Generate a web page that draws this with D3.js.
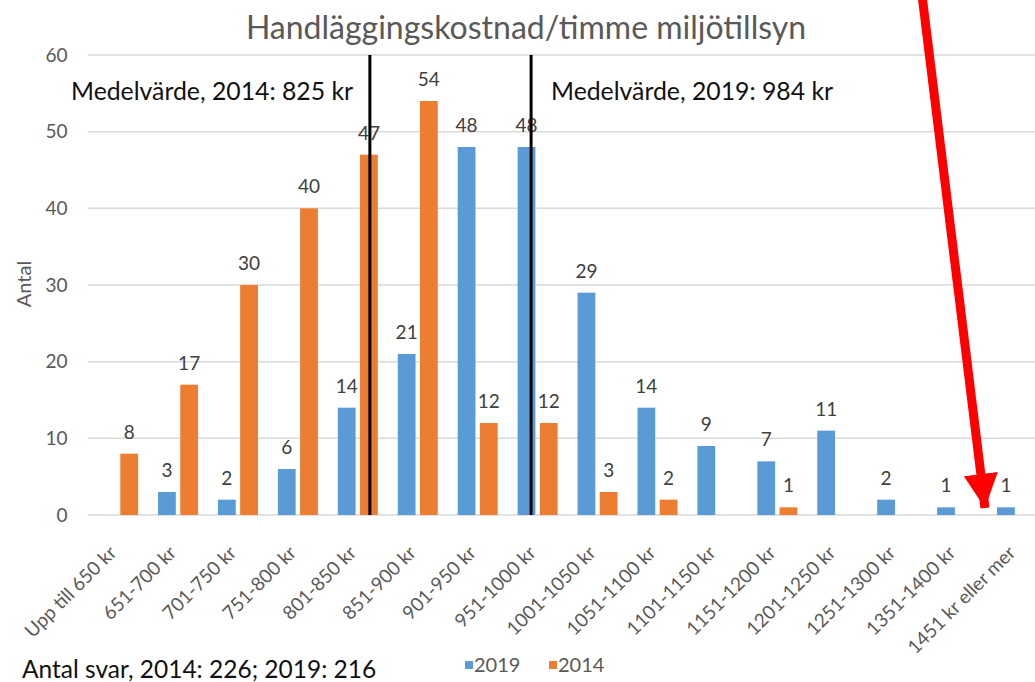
<!DOCTYPE html>
<html><head><meta charset="utf-8">
<script src="https://cdn.jsdelivr.net/npm/d3@7"></script>
<style>body{margin:0;background:#fff}svg{display:block;font-family:Lato,"Open Sans",sans-serif}</style>
</head><body><svg id="c" width="1035" height="682"></svg>
<script>
const categories = ["Upp till 650 kr","651-700 kr","701-750 kr","751-800 kr","801-850 kr","851-900 kr","901-950 kr","951-1000 kr","1001-1050 kr","1051-1100 kr","1101-1150 kr","1151-1200 kr","1201-1250 kr","1251-1300 kr","1351-1400 kr","1451 kr eller mer"];
const values2019 = [null,3,2,6,14,21,48,48,29,14,9,7,11,2,1,1];
const values2014 = [8,17,30,40,47,54,12,12,3,2,null,1,null,null,null,null];
const seriesNames = ["2019","2014"];
const yTicks = [0,10,20,30,40,50,60];
const meanLabels = ["Medelvärde, 2014: 825 kr","Medelvärde, 2019: 984 kr"];
const meanCategoryPos = [4.71, 7.40];   // position in category units where the mean lines were drawn
const titleText = "Handläggingskostnad/timme miljötillsyn";
const yTitle = "Antal";
const footnote = "Antal svar, 2014: 226; 2019: 216";

const colors = {"2019":"#5B9BD5","2014":"#ED7D31"};
const svg = d3.select("#c");
const pLeft = 87.6, pRight = 1046.5, pTop = 55, pBottom = 515;

const x0 = d3.scaleBand().domain(categories).range([pLeft, pRight]).padding(0);
const x1 = d3.scaleBand().domain(seriesNames).range([10.5, 50.5]).paddingInner(0.2);
const xc = d3.scaleLinear().domain([0, categories.length]).range([pLeft, pRight]);
const y = d3.scaleLinear().domain([0,60]).range([pBottom, pTop]);

// gridlines
svg.append("g").selectAll("line").data(yTicks).join("line")
  .attr("x1", pLeft).attr("x2", 1035).attr("y1", d=>y(d)).attr("y2", d=>y(d))
  .attr("stroke", "#d9d9d9").attr("stroke-width", 1.5);

// y axis labels
const yAxis = svg.append("g").attr("transform", `translate(${pLeft-12},0)`)
  .call(d3.axisLeft(y).tickValues(yTicks).tickSize(0).tickPadding(8));
yAxis.select(".domain").remove();
yAxis.selectAll("text").attr("font-size", 19).attr("fill", "#595959").attr("font-family","Lato");

// x axis labels
const xAxis = svg.append("g").attr("transform", `translate(0,${pBottom})`)
  .call(d3.axisBottom(x0).tickSize(0));
xAxis.select(".domain").remove();
xAxis.selectAll("text").attr("font-size", 19).attr("fill", "#595959").attr("font-family","Lato")
  .attr("text-anchor","end").attr("dy", null).attr("y", 0)
  .attr("transform", "translate(0,39) rotate(-45)");

// bars
const rows = categories.map((c,i)=>({cat:c, vals:[{s:"2019",v:values2019[i]},{s:"2014",v:values2014[i]}]}));
const g = svg.append("g");
const groups = g.selectAll("g").data(rows).join("g").attr("transform", d=>`translate(${x0(d.cat)},0)`);
groups.selectAll("rect").data(d=>d.vals.filter(v=>v.v!=null)).join("rect")
  .attr("x", d=>x1(d.s)).attr("width", x1.bandwidth())
  .attr("y", d=>y(d.v)).attr("height", d=>y(0)-y(d.v)).attr("fill", d=>colors[d.s]);
groups.selectAll("text").data(d=>d.vals.filter(v=>v.v!=null)).join("text")
  .attr("x", d=>x1(d.s)+x1.bandwidth()/2).attr("y", d=>y(d.v)-15)
  .attr("text-anchor","middle").attr("font-size",19).attr("fill","#404040").text(d=>d.v);

// mean lines
svg.append("g").selectAll("line").data(meanCategoryPos).join("line")
  .attr("x1", d=>xc(d)).attr("x2", d=>xc(d)).attr("y1", y(60)).attr("y2", y(0))
  .attr("stroke","#000").attr("stroke-width",3);
svg.append("text").attr("x", 71).attr("y", 100).attr("font-size",24.8).attr("fill","#111").text(meanLabels[0]);
svg.append("text").attr("x", 551).attr("y", 100).attr("font-size",24.8).attr("fill","#111").text(meanLabels[1]);

// title
svg.append("text").attr("x", 526).attr("y", 39).attr("text-anchor","middle").attr("font-size",32).attr("fill","#595959").text(titleText);
// y title
svg.append("text").attr("transform","translate(31,284) rotate(-90)").attr("text-anchor","middle").attr("font-size",20).attr("fill","#595959").text(yTitle);

// legend
const leg = svg.append("g").attr("transform","translate(465,661)");
seriesNames.forEach((s,i)=>{
  const lx = i*84;
  leg.append("rect").attr("x", lx).attr("y",0).attr("width",8).attr("height",8).attr("fill",colors[s]);
  leg.append("text").attr("x", lx+9).attr("y",11).attr("font-size",20).attr("fill","#595959").text(s);
});

// footnote
svg.append("text").attr("x",22).attr("y",678).attr("font-size",24.5).attr("fill","#111").text(footnote);

// red arrow annotation
const defs = svg.append("defs");
defs.append("marker").attr("id","ah").attr("viewBox","0 0 10 10").attr("refX",10).attr("refY",5)
  .attr("markerWidth",3.8).attr("markerHeight",4).attr("markerUnits","strokeWidth").attr("orient","auto")
  .append("path").attr("d","M0,0 L10,5 L0,10 Z").attr("fill","#ff0000");
svg.append("line").attr("x1",922).attr("y1",-5).attr("x2",985).attr("y2",508)
  .attr("stroke","#ff0000").attr("stroke-width",9).attr("marker-end","url(#ah)");
</script></body></html>
